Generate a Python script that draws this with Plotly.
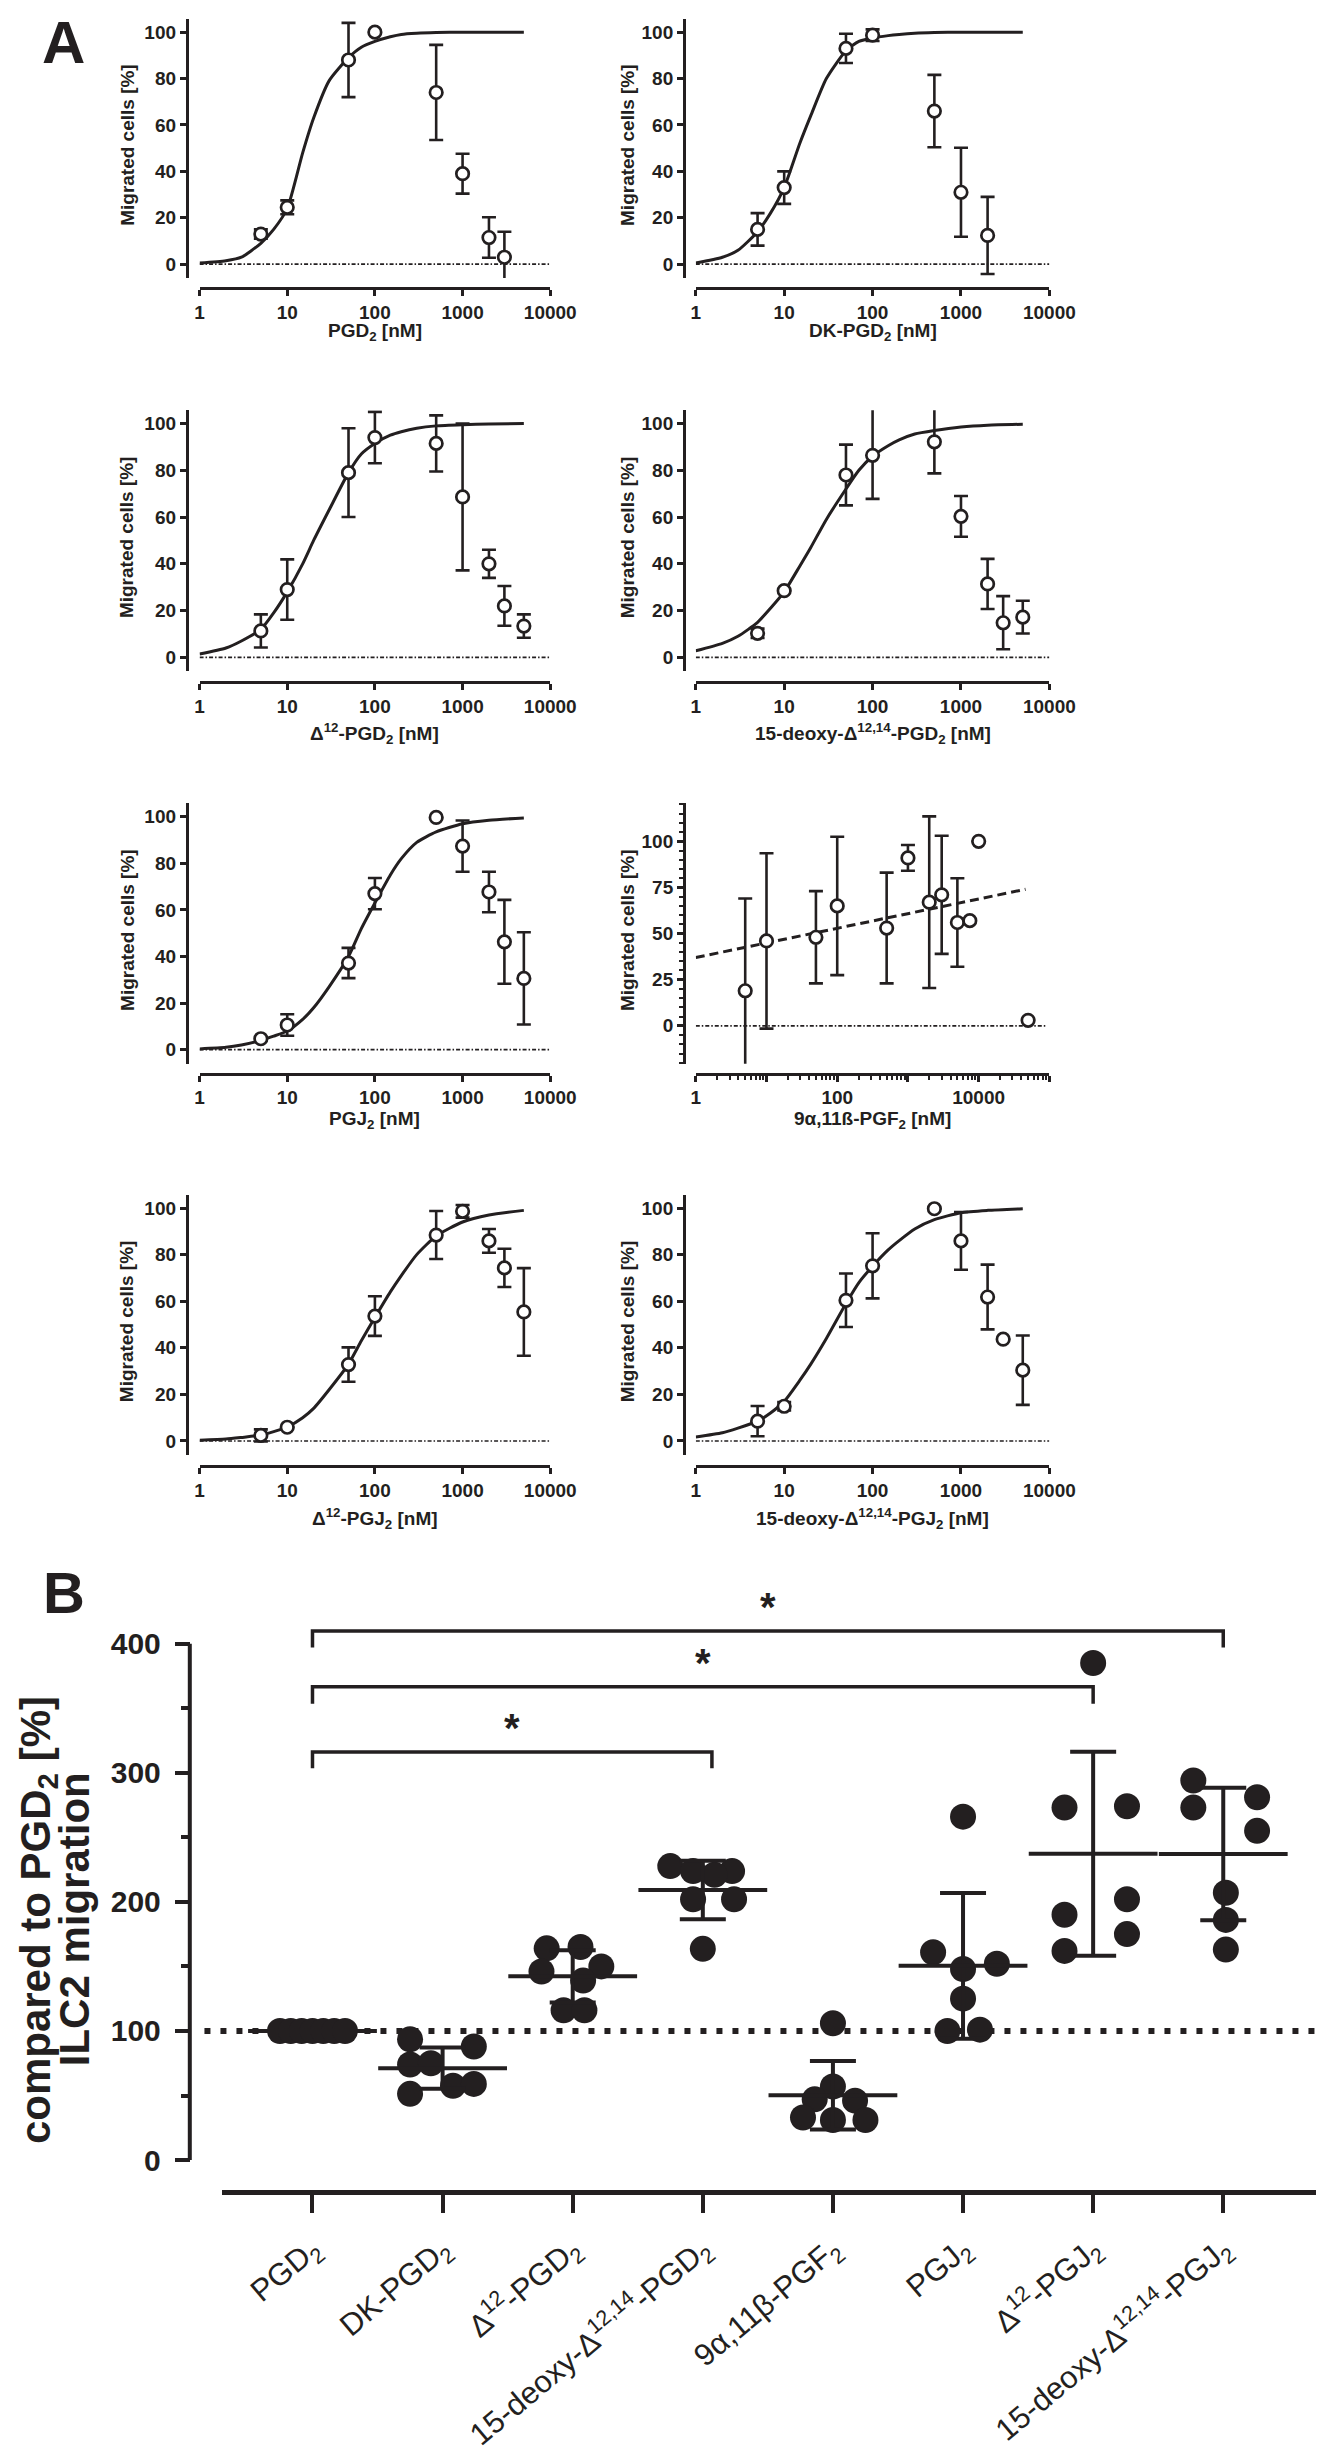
import numpy as np
import plotly.graph_objects as go

W, H = 1336, 2464
INK = '#231f20'
FONT = 'Liberation Sans, Arial, sans-serif'

# ---------------- Panel A data (mean +/- SEM) ----------------
pgd2_conc = [5, 10, 50, 100, 500, 1000, 2000, 3000]
pgd2_resp = [13, 24.5, 88, 100, 74, 39, 11.5, 3]
pgd2_err = [2, 3, 16, None, 20.5, 8.6, 8.7, 11]

dk_conc = [5, 10, 50, 100, 500, 1000, 2000]
dk_resp = [15, 33, 93, 98.7, 66, 31, 12.4]
dk_err = [7, 7, 6.3, 2.5, 15.6, 19.2, 16.6]

d12pgd2_conc = [5, 10, 50, 100, 500, 1000, 2000, 3000, 5000]
d12pgd2_resp = [11.3, 29, 79, 94, 91.5, 68.6, 40, 22, 13.4]
d12pgd2_err = [7.1, 12.9, 19, 11, 12, 31.4, 6, 8.5, 5]

dpgd2_conc = [5, 10, 50, 100, 500, 1000, 2000, 3000, 5000]
dpgd2_resp = [10.3, 28.5, 78, 86.4, 92.2, 60.3, 31.4, 14.8, 17.2]
dpgd2_err_up = [2, None, 13, 26, 20, 8.7, 10.7, 11.4, 7]
dpgd2_err_down = [2, None, 13, 18.6, 13.5, 8.7, 10.7, 11.3, 7]

pgj2_conc = [5, 10, 50, 100, 500, 1000, 2000, 3000, 5000]
pgj2_resp = [4.7, 10.6, 37.2, 67, 99.7, 87.4, 67.7, 46.3, 30.6]
pgj2_err = [None, 4.6, 6.5, 6.7, None, 11, 8.7, 18, 19.8]

pgf2_conc = [5, 10, 50, 100, 500, 1000, 2000, 3000, 5000, 7500, 10000, 50000]
pgf2_resp = [19, 46, 48, 65, 53, 91, 67, 71, 56, 57, 100, 3]
pgf2_err = [50, 47.5, 25, 37.5, 30, 7, 46.5, 32, 24, None, None, None]

d12pgj2_conc = [5, 10, 50, 100, 500, 1000, 2000, 3000, 5000]
d12pgj2_resp = [2.4, 5.9, 32.8, 53.6, 88.4, 98.6, 85.9, 74.3, 55.4]
d12pgj2_err = [2.6, None, 7.4, 8.5, 10.3, 2.7, 5.1, 8.2, 18.8]

dpgj2_conc = [5, 10, 50, 100, 500, 1000, 2000, 3000, 5000]
dpgj2_resp = [8.5, 14.9, 60.4, 75.2, 99.7, 85.9, 61.8, 43.7, 30.4]
dpgj2_err = [6.5, 1.8, 11.5, 14, None, 12.4, 13.9, None, 14.9]

# fitted dose-response curves
curve_x = [1, 2, 3, 5, 7, 10, 15, 20, 30, 50, 70, 100, 150, 200, 300, 500, 1000, 2000, 5000]
pgd2_fit = [0.5, 1.5, 3, 9, 15, 24, 48, 63, 79, 89, 93.5, 96, 98, 99, 99.5, 99.8, 100, 100, 100]
dk_fit = [0.5, 3, 6, 14, 22, 33, 52, 64, 80, 92, 96, 97.5, 98.5, 99, 99.5, 99.8, 100, 100, 100]
d12pgd2_fit = [1.4, 4, 7, 12, 19, 28, 40, 50, 63, 79, 87, 91.5, 95, 96.5, 98, 99, 99.5, 99.8, 100]
dpgd2_fit = [2.8, 6, 9, 15, 21, 28, 39, 47, 59, 72, 80, 86, 90.5, 93, 95.5, 97, 98.5, 99.3, 99.7]
pgj2_fit = [0.3, 1, 2, 4, 5.8, 8, 13, 18, 27, 40, 52, 63, 75, 82, 89, 93.5, 97, 98.5, 99.5]
d12pgj2_fit = [0.3, 0.8, 1.5, 2.5, 4, 6, 10, 14, 22, 33, 43, 53, 64, 71, 80, 88, 94, 97, 99]
dpgj2_fit = [1.7, 3.5, 5.5, 8.5, 12, 17, 26, 33, 44, 59, 68, 75, 82, 86, 91, 95, 98, 99, 99.7]
pgf2_fit_x = [1, 46000]
pgf2_fit_y = [37, 74]

a_titles = [
    'PGD<sub>2</sub> [nM]',
    'DK-PGD<sub>2</sub> [nM]',
    'Δ<sup>12</sup>-PGD<sub>2</sub> [nM]',
    '15-deoxy-Δ<sup>12,14</sup>-PGD<sub>2</sub> [nM]',
    'PGJ<sub>2</sub> [nM]',
    '9α,11ß-PGF<sub>2</sub> [nM]',
    'Δ<sup>12</sup>-PGJ<sub>2</sub> [nM]',
    '15-deoxy-Δ<sup>12,14</sup>-PGJ<sub>2</sub> [nM]',
]

# ---------------- Panel B data (% of PGD2, n = 7) ----------------
b_labels = [
    'PGD<sub>2</sub>', 'DK-PGD<sub>2</sub>', 'Δ<sup>12</sup>-PGD<sub>2</sub>',
    '15-deoxy-Δ<sup>12,14</sup>-PGD<sub>2</sub>', '9α,11β-PGF<sub>2</sub>',
    'PGJ<sub>2</sub>', 'Δ<sup>12</sup>-PGJ<sub>2</sub>', '15-deoxy-Δ<sup>12,14</sup>-PGJ<sub>2</sub>',
]
b_pgd2 = [100, 100, 100, 100, 100, 100, 100]
b_dk = [93.6, 88, 74, 75, 57.5, 59, 51.3]
b_d12pgd2 = [164, 165, 146, 150, 139, 116, 116]
b_dpgd2 = [227.7, 223.8, 223.8, 221, 202, 202, 163.6]
b_pgf2 = [106, 57, 47, 46, 33, 31, 31]
b_pgj2 = [266, 161, 152, 148, 125, 100, 101]
b_d12pgj2 = [385, 273, 274, 202, 190, 175, 162]
b_dpgj2 = [294, 281, 273, 255, 207, 186, 163]
b_groups = [b_pgd2, b_dk, b_d12pgd2, b_dpgd2, b_pgf2, b_pgj2, b_d12pgj2, b_dpgj2]

# horizontal spread of the dots inside each column (layout only)
b_jitter = [
    [-0.25, -0.167, -0.083, 0, 0.083, 0.167, 0.25],
    [-0.25, 0.24, -0.25, -0.09, 0.08, 0.24, -0.25],
    [-0.2, 0.06, -0.24, 0.22, 0.08, -0.07, 0.09],
    [-0.25, -0.075, 0.225, 0.09, -0.075, 0.24, 0],
    [0, 0, -0.14, 0.17, -0.23, 0, 0.25],
    [0, -0.23, 0.26, 0, 0, -0.12, 0.13],
    [0, -0.22, 0.26, 0.26, -0.22, 0.26, -0.22],
    [-0.23, 0.26, -0.23, 0.26, 0.02, 0.02, 0.02],
]


def fx(px):
    return px / W


def fy(px):
    return 1 - px / H


fig = go.Figure()

# panel geometry in pixels
row_top = [11, 405, 801, 1195]
row_bot = [272, 668, 1063, 1457]
row_xline = [282, 679, 1073, 1468]
row_xtitle = [326, 731, 1120, 1521]
col_x = [(191, 550), (699, 1061)]
col_yline = [178, 687]
col_ytitle = [117, 629]

panels = [
    (pgd2_conc, pgd2_resp, pgd2_err, None, curve_x, pgd2_fit),
    (dk_conc, dk_resp, dk_err, None, curve_x, dk_fit),
    (d12pgd2_conc, d12pgd2_resp, d12pgd2_err, None, curve_x, d12pgd2_fit),
    (dpgd2_conc, dpgd2_resp, dpgd2_err_up, dpgd2_err_down, curve_x, dpgd2_fit),
    (pgj2_conc, pgj2_resp, pgj2_err, None, curve_x, pgj2_fit),
    (pgf2_conc, pgf2_resp, pgf2_err, None, pgf2_fit_x, pgf2_fit_y),
    (d12pgj2_conc, d12pgj2_resp, d12pgj2_err, None, curve_x, d12pgj2_fit),
    (dpgj2_conc, dpgj2_resp, dpgj2_err, None, curve_x, dpgj2_fit),
]

tick_font = dict(family=FONT, size=19, color=INK, weight='bold')
annotations = []
layout_axes = {}

for k, (conc, resp, err_up, err_down, fit_x, fit_y) in enumerate(panels):
    r, c = divmod(k, 2)
    n = k + 1
    xa, ya = f'x{n}', f'y{n}'
    is_pgf = (k == 5)

    xaxis = dict(
        type='log', range=[0, 5] if is_pgf else [0, 4],
        domain=[fx(col_x[c][0]), fx(col_x[c][1])],
        anchor='free', position=fy(row_xline[r]),
        showline=True, linewidth=3, linecolor=INK,
        ticks='outside', ticklen=6, tickwidth=2.5, tickcolor=INK,
        tickfont=tick_font, showgrid=False, zeroline=False,
    )
    yaxis = dict(
        range=[-20.5, 120.5] if is_pgf else [-6, 105.7],
        domain=[fy(row_bot[r]), fy(row_top[r])],
        anchor='free', position=fx(col_yline[c]),
        showline=True, linewidth=3, linecolor=INK,
        ticks='outside', ticklen=6, tickwidth=2.5, tickcolor=INK,
        tickfont=tick_font, showgrid=False, zeroline=False,
    )
    if is_pgf:
        xaxis.update(tickvals=[1, 10, 100, 1000, 10000, 100000],
                     ticktext=['1', ' ', '100', ' ', '10000', ' '],
                     minor=dict(tickvals=[m * 10 ** e for e in range(5) for m in range(2, 10)],
                                ticks='outside', ticklen=4, tickwidth=2, tickcolor=INK))
        yaxis.update(tickvals=[0, 25, 50, 75, 100],
                     minor=dict(tickvals=list(range(-20, 121, 5)),
                                ticks='outside', ticklen=4, tickwidth=2, tickcolor=INK))
    else:
        xaxis.update(tickvals=[1, 10, 100, 1000, 10000],
                     ticktext=['1', '10', '100', '1000', '10000'])
        yaxis.update(tickvals=[0, 20, 40, 60, 80, 100])
    layout_axes[f'xaxis{n}'] = xaxis
    layout_axes[f'yaxis{n}'] = yaxis

    # dotted baseline at 0
    fig.add_trace(go.Scatter(
        x=[1, 89000 if is_pgf else 10000], y=[0, 0], mode='lines',
        line=dict(color=INK, width=1.7, dash='4px,2px,1.5px,2px'),
        xaxis=xa, yaxis=ya, hoverinfo='skip'))
    # fitted curve
    fig.add_trace(go.Scatter(
        x=fit_x, y=fit_y, mode='lines',
        line=dict(color=INK, width=3, dash='9px,5px' if is_pgf else 'solid',
                  shape='linear' if is_pgf else 'spline', smoothing=0.6),
        xaxis=xa, yaxis=ya, hoverinfo='skip'))
    # means with error bars
    fig.add_trace(go.Scatter(
        x=conc, y=resp, mode='markers',
        marker=dict(symbol='circle', size=12.5, color='white',
                    line=dict(color=INK, width=2.7)),
        error_y=dict(type='data', array=err_up,
                     arrayminus=err_down if err_down is not None else err_up,
                     symmetric=False, color=INK, thickness=2.6, width=7),
        cliponaxis=False, xaxis=xa, yaxis=ya))

    annotations.append(dict(
        text=a_titles[k], x=fx((col_x[c][0] + col_x[c][1]) / 2), y=fy(row_xtitle[r]),
        xref='paper', yref='paper', showarrow=False, xanchor='center', yanchor='middle',
        font=dict(family=FONT, size=19, color=INK, weight='bold')))
    annotations.append(dict(
        text='Migrated cells [%]', x=fx(col_ytitle[c]), y=fy((row_top[r] + row_bot[r]) / 2 - 4),
        xref='paper', yref='paper', showarrow=False, textangle=-90,
        xanchor='center', yanchor='middle',
        font=dict(family=FONT, size=19, color=INK, weight='bold')))

# ---------------- Panel B ----------------
B_Y0, B_PX = 2167, 1.3          # pixel of y = 0 and pixels per %
B_TOP = 1600
b_ymax = (B_Y0 - B_TOP) / B_PX
B_X0, B_STEP = 306.6, 133.2     # pixel of first column and column spacing
bx_left, bx_right = 214, 1334

layout_axes['xaxis9'] = dict(
    range=[(bx_left - B_X0) / B_STEP, (bx_right - B_X0) / B_STEP],
    domain=[fx(bx_left), fx(bx_right)], anchor='free', position=fy(2199),
    showline=True, linewidth=5, linecolor=INK,
    ticks='outside', ticklen=18, tickwidth=4, tickcolor=INK,
    tickvals=list(range(len(b_labels))), ticktext=b_labels, tickangle=-40,
    tickfont=dict(family=FONT, size=31, color=INK), ticklabelstandoff=6,
    showgrid=False, zeroline=False)
layout_axes['yaxis9'] = dict(
    range=[0, b_ymax], domain=[fy(B_Y0), fy(B_TOP)],
    anchor='free', position=fx(181), showline=False,
    ticks='outside', ticklen=15, tickwidth=4, tickcolor=INK,
    tickvals=[0, 100, 200, 300, 400], ticklabelstandoff=8,
    minor=dict(tickvals=[50, 150, 250, 350], ticks='outside', ticklen=9,
               tickwidth=4, tickcolor=INK),
    tickfont=dict(family=FONT, size=30, color=INK, weight='bold'),
    showgrid=False, zeroline=False)

for i, vals in enumerate(b_groups):
    xs = [i + j for j in b_jitter[i]]
    fig.add_trace(go.Scatter(
        x=xs, y=vals, mode='markers',
        marker=dict(size=26, color=INK, line=dict(width=0)),
        cliponaxis=False, xaxis='x9', yaxis='y9'))
for i, vals in enumerate(b_groups):
    m = float(np.mean(vals))
    sd = float(np.std(vals, ddof=1))
    fig.add_trace(go.Scatter(
        x=[i], y=[m], mode='markers',
        marker=dict(symbol='line-ew', size=92, line=dict(width=4, color=INK)),
        error_y=dict(type='data', array=[sd], color=INK, thickness=4, width=23),
        cliponaxis=False, xaxis='x9', yaxis='y9'))

shapes = [
    # y axis line from 0 to 400 and the 100 % reference line
    dict(type='line', xref='paper', yref='y9', x0=fx(181), x1=fx(181), y0=0, y1=400,
         line=dict(color=INK, width=4)),
    dict(type='line', xref='paper', yref='y9', x0=fx(196), x1=fx(1336), y0=100, y1=100,
         line=dict(color=INK, width=6, dash='6px,10px'), layer='below'),
]
brackets = [(0, 7, 409.8, 397, 428), (0, 6, 366.7, 353.4, 385), (0, 3.07, 316, 303.4, 335)]
for a, b, top, drop, star in brackets:
    shapes.append(dict(type='path', xref='x9', yref='y9',
                       path=f'M {a},{drop} L {a},{top} L {b},{top} L {b},{drop}',
                       line=dict(color=INK, width=3.5)))
    annotations.append(dict(text='*', x=(a + b) / 2, y=star, xref='x9', yref='y9',
                            showarrow=False, yanchor='middle',
                            font=dict(family=FONT, size=40, color=INK, weight='bold')))

annotations += [
    dict(text='ILC2 migration', x=fx(63), y=fy(1925), xref='paper', yref='paper',
         showarrow=False, textangle=-90, xanchor='center', yanchor='middle',
         font=dict(family=FONT, size=42, color=INK, weight='bold')),
    dict(text='compared to PGD<sub>2</sub> [%]', x=fx(26), y=fy(1925),
         xref='paper', yref='paper', showarrow=False, textangle=-90,
         xanchor='center', yanchor='middle',
         font=dict(family=FONT, size=42, color=INK, weight='bold')),
    dict(text='A', x=fx(52), y=fy(35), xref='paper', yref='paper', showarrow=False,
         xanchor='center', yanchor='middle',
         font=dict(family=FONT, size=60, color=INK, weight='bold')),
    dict(text='B', x=fx(52), y=fy(1596), xref='paper', yref='paper', showarrow=False,
         xanchor='center', yanchor='middle',
         font=dict(family=FONT, size=58, color=INK, weight='bold')),
]

fig.update_layout(
    width=W, height=H, margin=dict(l=0, r=0, t=0, b=0),
    paper_bgcolor='white', plot_bgcolor='white', showlegend=False,
    font=dict(family=FONT, color=INK),
    annotations=annotations, shapes=shapes, **layout_axes)

fig.write_html('out.html')
